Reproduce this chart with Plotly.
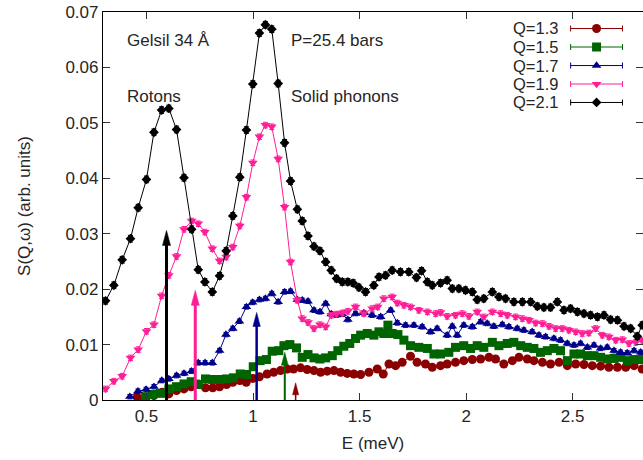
import plotly.graph_objects as go

# ---------------- data ----------------
E_21 = [0.308,0.347,0.386,0.425,0.461,0.500,0.535,0.571,0.605,0.641,0.676,0.712,0.743,0.774,0.809,0.843,0.874,0.905,0.938,0.969,
        0.999,1.030,1.058,1.088,1.118,1.148,1.176,1.208,1.231,1.258,1.286,1.314,1.341,1.367,1.392,1.419,1.445,1.470,1.497,1.528,
        1.567,1.591,1.622,1.653,1.692,1.731,1.767,1.791,1.818,1.841,1.880,1.911,1.935,1.966,1.997,2.029,2.052,2.083,2.123,2.154,
        2.185,2.224,2.264,2.303,2.334,2.365,2.396,2.428,2.459,2.490,2.522,2.553,2.584,2.616,2.647,2.678,2.710,2.741,2.772,2.803,2.826]
S_21 = [0.0179,0.0207,0.0253,0.0291,0.0347,0.0398,0.0483,0.0523,0.0526,0.0488,0.0401,0.0308,0.0235,0.0213,0.0195,0.0224,0.0269,0.0332,0.0402,0.0487,
        0.0570,0.0662,0.0677,0.0669,0.0571,0.0464,0.0395,0.0344,0.0323,0.0296,0.0277,0.0269,0.0249,0.0234,0.0219,0.0213,0.0213,0.0211,0.0203,0.0195,
        0.0207,0.0222,0.0225,0.0234,0.0231,0.0231,0.0221,0.0233,0.0213,0.0207,0.0211,0.0216,0.0201,0.0201,0.0198,0.0195,0.0181,0.0183,0.0195,0.0186,
        0.0183,0.0177,0.0177,0.0177,0.0169,0.0167,0.0167,0.0177,0.0162,0.0165,0.0159,0.0156,0.0153,0.0150,0.0153,0.0145,0.0144,0.0133,0.0129,0.0115,0.0135]

E_19 = [0.308,0.347,0.386,0.425,0.461,0.500,0.535,0.571,0.605,0.641,0.676,0.712,0.743,0.774,0.809,0.843,0.874,0.905,0.938,0.969,
        0.999,1.030,1.058,1.088,1.118,1.148,1.176,1.208,1.231,1.258,1.286,1.314,1.341,1.367,1.392,1.419,1.445,1.481,1.520,1.559,
        1.585,1.614,1.653,1.677,1.708,1.739,1.778,1.818,1.857,1.880,1.911,1.950,1.982,2.013,2.052,2.083,2.123,2.162,2.193,2.232,
        2.264,2.295,2.326,2.358,2.389,2.420,2.451,2.482,2.514,2.545,2.576,2.608,2.639,2.670,2.702,2.733,2.764,2.796,2.826]
S_19 = [0.0020,0.0034,0.0043,0.0076,0.0091,0.0124,0.0136,0.0188,0.0225,0.0259,0.0308,0.0323,0.0318,0.0303,0.0273,0.0251,0.0258,0.0276,0.0314,0.0366,
        0.0428,0.0475,0.0496,0.0493,0.0435,0.0348,0.0249,0.0180,0.0147,0.0140,0.0129,0.0136,0.0132,0.0153,0.0155,0.0157,0.0160,0.0168,0.0156,0.0165,
        0.0168,0.0183,0.0186,0.0175,0.0171,0.0168,0.0162,0.0159,0.0156,0.0158,0.0151,0.0153,0.0156,0.0151,0.0159,0.0150,0.0159,0.0156,0.0153,0.0150,
        0.0147,0.0144,0.0139,0.0138,0.0133,0.0129,0.0129,0.0126,0.0123,0.0120,0.0121,0.0129,0.0117,0.0114,0.0108,0.0109,0.0102,0.0104,0.0108]

E_17 = [0.422,0.460,0.498,0.535,0.572,0.605,0.641,0.676,0.711,0.743,0.775,0.809,0.843,0.873,0.905,0.936,0.969,0.998,1.030,1.058,
        1.088,1.118,1.148,1.176,1.208,1.231,1.258,1.286,1.314,1.341,1.367,1.392,1.419,1.445,1.481,1.520,1.559,1.599,1.646,1.677,
        1.716,1.755,1.794,1.833,1.864,1.911,1.935,1.958,1.989,2.029,2.068,2.099,2.130,2.170,2.201,2.240,2.271,2.310,2.342,2.373,
        2.412,2.443,2.475,2.506,2.537,2.569,2.600,2.631,2.662,2.694,2.725,2.756,2.788,2.819]
S_17 = [0.0006,0.0016,0.0019,0.0024,0.0035,0.0038,0.0044,0.0048,0.0052,0.0067,0.0067,0.0067,0.0089,0.0118,0.0129,0.0142,0.0168,0.0176,0.0181,0.0183,
        0.0192,0.0177,0.0195,0.0196,0.0181,0.0180,0.0178,0.0162,0.0159,0.0174,0.0155,0.0153,0.0155,0.0145,0.0156,0.0157,0.0153,0.0150,0.0162,0.0139,
        0.0135,0.0135,0.0132,0.0123,0.0129,0.0117,0.0133,0.0117,0.0135,0.0132,0.0141,0.0138,0.0133,0.0136,0.0132,0.0129,0.0126,0.0123,0.0117,0.0114,
        0.0111,0.0108,0.0102,0.0099,0.0102,0.0095,0.0099,0.0093,0.0095,0.0089,0.0086,0.0085,0.0089,0.0086]

E_15 = [0.496,0.527,0.566,0.605,0.641,0.676,0.710,0.743,0.777,0.811,0.843,0.876,0.908,0.940,0.970,1.001,1.033,1.063,1.090,1.121,
        1.145,1.173,1.204,1.231,1.258,1.286,1.314,1.341,1.372,1.398,1.426,1.454,1.481,1.505,1.536,1.567,1.591,1.614,1.633,1.653,
        1.680,1.708,1.739,1.778,1.818,1.849,1.880,1.919,1.950,1.989,2.021,2.052,2.083,2.123,2.154,2.193,2.224,2.256,2.287,2.318,
        2.349,2.381,2.412,2.443,2.475,2.506,2.537,2.569,2.600,2.631,2.662,2.694,2.725,2.756,2.788,2.819]
S_15 = [0.0006,0.0010,0.0012,0.0020,0.0024,0.0029,0.0033,0.0028,0.0038,0.0037,0.0037,0.0038,0.0040,0.0047,0.0046,0.0060,0.0071,0.0073,0.0088,0.0089,
        0.0098,0.0100,0.0094,0.0077,0.0082,0.0076,0.0074,0.0076,0.0080,0.0089,0.0097,0.0102,0.0111,0.0117,0.0120,0.0117,0.0123,0.0120,0.0135,0.0120,
        0.0118,0.0108,0.0098,0.0095,0.0093,0.0083,0.0083,0.0086,0.0095,0.0098,0.0093,0.0098,0.0095,0.0104,0.0098,0.0102,0.0104,0.0098,0.0095,0.0093,
        0.0086,0.0089,0.0093,0.0089,0.0071,0.0083,0.0083,0.0080,0.0080,0.0077,0.0074,0.0075,0.0077,0.0071,0.0073,0.0073]

E_13 = [0.457,0.496,0.535,0.574,0.605,0.641,0.676,0.710,0.743,0.777,0.811,0.843,0.876,0.905,0.938,0.968,0.999,1.030,1.066,1.097,
        1.129,1.160,1.190,1.223,1.254,1.286,1.317,1.348,1.380,1.411,1.442,1.473,1.505,1.544,1.583,1.611,1.638,1.669,1.700,1.739,
        1.770,1.809,1.841,1.880,1.911,1.950,1.989,2.029,2.068,2.107,2.138,2.177,2.217,2.248,2.287,2.318,2.358,2.396,2.436,2.475,
        2.514,2.553,2.592,2.631,2.670,2.710,2.749,2.788,2.826]
S_13 = [0.0005,0.0002,0.0008,0.0014,0.0011,0.0017,0.0020,0.0024,0.0029,0.0022,0.0022,0.0024,0.0028,0.0032,0.0035,0.0032,0.0039,0.0042,0.0047,0.0050,
        0.0053,0.0056,0.0056,0.0058,0.0055,0.0053,0.0050,0.0052,0.0053,0.0050,0.0048,0.0047,0.0046,0.0050,0.0056,0.0047,0.0065,0.0062,0.0068,0.0079,
        0.0068,0.0065,0.0059,0.0062,0.0065,0.0068,0.0071,0.0073,0.0074,0.0077,0.0074,0.0065,0.0071,0.0077,0.0074,0.0071,0.0068,0.0065,0.0068,0.0062,
        0.0065,0.0064,0.0062,0.0061,0.0059,0.0059,0.0059,0.0062,0.0056]

labels   = ["Q=1.3", "Q=1.5", "Q=1.7", "Q=1.9", "Q=2.1"]
energies = [E_13, E_15, E_17, E_19, E_21]
values   = [S_13, S_15, S_17, S_19, S_21]
errors   = [0.0003, 0.0003, 0.0004, 0.0005, 0.0006]

# roton arrows (energy, arrow height) per Q
arrow_E = [1.200, 1.149, 1.017, 0.729, 0.594]
arrow_h = [0.0031, 0.0086, 0.0158, 0.0198, 0.0306]

x_ticks = [0.5, 1, 1.5, 2, 2.5]
x_tick_text = ["0.5", "1", "1.5", "2", "2.5"]
y_ticks = [0, 0.01, 0.02, 0.03, 0.04, 0.05, 0.06, 0.07]
y_tick_text = ["0", "0.01", "0.02", "0.03", "0.04", "0.05", "0.06", "0.07"]

# ---------------- styles ----------------
colors  = ["#8b0000", "#006400", "#00008b", "#ff1e96", "#000000"]
symbols = ["circle", "square", "triangle-up", "triangle-down", "diamond"]
msizes  = [9, 9, 8.5, 8.5, 7.5]
arrow_w = [1.5, 2, 2.5, 3, 3]
FONT = "Liberation Sans, Arial, Helvetica, sans-serif"
TXT = "#262626"

fig = go.Figure()

for lab, E, S, err, c, sym, ms in zip(labels, energies, values, errors, colors, symbols, msizes):
    fig.add_trace(go.Scatter(
        x=E, y=S, mode="lines+markers", name=lab, showlegend=False,
        line=dict(color=c, width=1),
        marker=dict(symbol=sym, size=ms, color=c, line=dict(width=0)),
        error_y=dict(type="constant", value=err, color=c, thickness=1, width=2.5),
    ))

# arrows (shaft + elongated head)
for xe, h, c, w in zip(arrow_E, arrow_h, colors, arrow_w):
    fig.add_shape(type="line", xref="x", yref="y", x0=xe, x1=xe, y0=0, y1=h - 0.0012,
                  line=dict(color=c, width=w), layer="above")
    hw = 2.2 + w * 0.6
    hl = 9 + w * 2
    fig.add_shape(type="path", xref="x", yref="y", xsizemode="pixel", ysizemode="pixel",
                  xanchor=xe, yanchor=h,
                  path=f"M0,0 L{-hw},{-hl} L{hw},{-hl} Z",
                  fillcolor=c, line=dict(color=c, width=0.5), layer="above")

# custom gnuplot-style key: text on the left, errorbar sample on the right
key_y = [0.9575, 0.9098, 0.862, 0.8144, 0.7668]
for lab, ky, c, sym, ms in zip(labels, key_y, colors, symbols, msizes):
    fig.add_trace(go.Scatter(
        x=[0.914], y=[ky], xaxis="x2", yaxis="y2", mode="markers", showlegend=False,
        marker=dict(symbol=sym, size=ms, color=c, line=dict(width=0)),
        error_x=dict(type="constant", value=0.048, color=c, thickness=1, width=3),
        hoverinfo="skip",
    ))
    fig.add_annotation(x=0.846, y=ky, xref="x2", yref="y2", text=lab, showarrow=False,
                       xanchor="right", yanchor="middle", font=dict(family=FONT, size=16.5, color=TXT))

for txt, px, py in [("Gelsil 34 Å", 0.040, 0.927), ("P=25.4 bars", 0.345, 0.927),
                    ("Rotons", 0.040, 0.783), ("Solid phonons", 0.345, 0.783)]:
    fig.add_annotation(x=px, y=py, xref="x2", yref="y2", text=txt, showarrow=False,
                       xanchor="left", yanchor="middle", font=dict(family=FONT, size=17, color=TXT))

fig.update_layout(
    width=643, height=460,
    margin=dict(l=103, r=0, t=12, b=60),
    paper_bgcolor="white", plot_bgcolor="white",
    font=dict(family=FONT, size=17, color=TXT),
    showlegend=False,
    xaxis=dict(range=[0.296, 2.83], tickvals=x_ticks, ticktext=x_tick_text,
               ticks="inside", ticklen=7, tickwidth=1, tickcolor="#333",
               showline=True, linecolor="black", linewidth=1.2, mirror="ticks",
               showgrid=False, zeroline=False,
               tickfont=dict(family=FONT, size=17, color=TXT),
               title=dict(text="E (meV)", standoff=12, font=dict(family=FONT, size=17, color=TXT))),
    yaxis=dict(range=[0, 0.07], tickvals=y_ticks, ticktext=y_tick_text,
               ticks="inside", ticklen=7, tickwidth=1, tickcolor="#333",
               showline=True, linecolor="black", linewidth=1.2, mirror="ticks",
               showgrid=False, zeroline=False,
               tickfont=dict(family=FONT, size=17, color=TXT),
               title=dict(text="S(Q,ω) (arb. units)", standoff=30, font=dict(family=FONT, size=17, color=TXT))),
    xaxis2=dict(overlaying="x", range=[0, 1], visible=False, fixedrange=True),
    yaxis2=dict(overlaying="y", range=[0, 1], visible=False, fixedrange=True),
)

fig.write_html("out.html")
